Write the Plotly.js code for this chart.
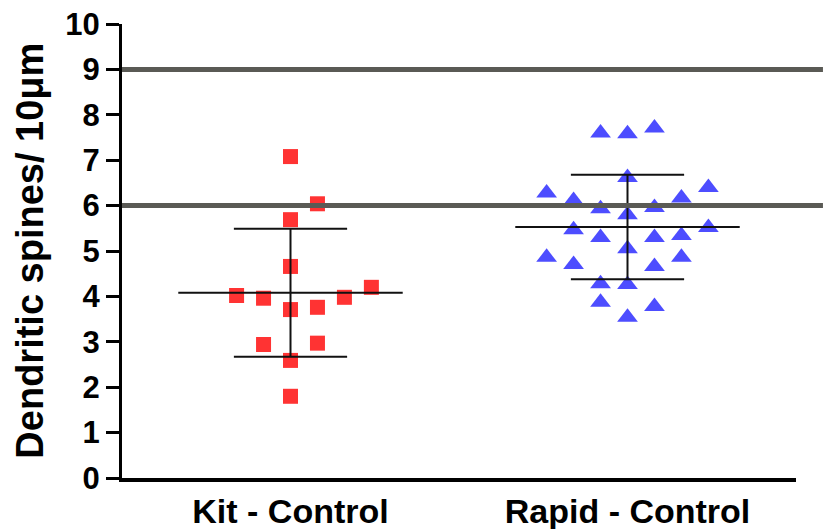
<!DOCTYPE html>
<html>
<head>
<meta charset="utf-8">
<script src="https://cdn.plot.ly/plotly-3.0.1.min.js"></script>
<style>html,body{margin:0;padding:0;background:#fff;}#chart{width:828px;height:529px;}</style>
</head>
<body>
<div id="chart"></div>
<script>
// ---- data ----
const categories = ['Kit - Control', 'Rapid - Control'];
const yTickVals = [0, 1, 2, 3, 4, 5, 6, 7, 8, 9, 10];
const yTitle = 'Dendritic spines/ 10μm';

const kitValues = [7.08, 6.04, 5.69, 4.66, 4.02, 3.96, 3.98, 4.20, 3.71, 3.76, 2.94, 2.97, 2.59, 1.80];
const kitColumn = [0, 1, 0, 0, -2, -1, 2, 3, 0, 1, -1, 1, 0, 0];

const rapidValues = [7.60, 7.58, 7.71, 6.62, 6.28, 6.40, 6.11, 6.17, 5.93, 5.96, 5.80, 5.52, 5.47, 5.30, 5.30, 5.34, 5.05, 4.86, 4.70, 4.86, 4.66, 4.28, 4.26, 3.87, 3.78, 3.54];
const rapidColumn = [-1, 0, 1, 0, -3, 3, -2, 2, -1, 1, 0, 3, -2, -1, 1, 2, 0, -3, -2, 2, 1, -1, 0, -1, 1, 0];

const groupMean = [4.08, 5.53];
const groupSD = [1.41, 1.15];

const refLines = [9, 6];

// ---- styles ----
const colStep = 0.08;
const meanHalf = 0.333;
const capHalf = 0.168;
const fontFam = 'Arial, "Liberation Sans", Helvetica, sans-serif';

const traces = [];
traces.push({
  x: kitColumn.map(c => 0 + c * colStep), y: kitValues,
  type: 'scatter', mode: 'markers', name: categories[0],
  marker: {symbol: 'square', size: 15, color: '#FF3333'},
  hoverinfo: 'y'
});
traces.push({
  x: rapidColumn.map(c => 1 + c * colStep), y: rapidValues,
  type: 'scatter', mode: 'markers', name: categories[1],
  marker: {symbol: 'triangle-up', size: 18, color: '#4D4DFF'},
  hoverinfo: 'y'
});

// mean and SD bars
groupMean.forEach((m, i) => {
  const s = groupSD[i];
  const xs = [i - meanHalf, i + meanHalf, null, i, i, null, i - capHalf, i + capHalf, null, i - capHalf, i + capHalf];
  const ys = [m, m, null, m - s, m + s, null, m + s, m + s, null, m - s, m - s];
  traces.push({x: xs, y: ys, type: 'scatter', mode: 'lines', line: {color: '#111', width: 2}, hoverinfo: 'skip'});
});

const shapes = refLines.map(v => ({
  type: 'line', xref: 'paper', yref: 'y', x0: 0, x1: 1.04, y0: v, y1: v,
  line: {color: '#5A5A55', width: 5}, layer: 'above'
}));

const layout = {
  width: 828, height: 529,
  margin: {l: 122, r: 32, t: 24, b: 51},
  paper_bgcolor: '#fff', plot_bgcolor: '#fff',
  showlegend: false,
  font: {family: fontFam, color: '#000'},
  xaxis: {
    range: [-0.5, 1.5], tickvals: [0, 1], ticktext: categories,
    showgrid: false, zeroline: false, showline: true, linecolor: '#000', linewidth: 4,
    ticks: '', tickfont: {size: 34, weight: 'bold', family: fontFam, color: '#000'},
    fixedrange: true
  },
  yaxis: {
    range: [0, 10], tickvals: yTickVals,
    showgrid: false, zeroline: false, showline: true, linecolor: '#000', linewidth: 3,
    ticks: 'outside', ticklen: 13, tickwidth: 3, tickcolor: '#000',
    tickfont: {size: 31, weight: 'bold', family: fontFam, color: '#000'},
    fixedrange: true
  },
  shapes: shapes,
  annotations: [{
    text: yTitle, xref: 'paper', yref: 'paper', x: -0.137, y: 0.5,
    xanchor: 'center', yanchor: 'middle', textangle: -90, showarrow: false,
    font: {size: 38, weight: 'bold', family: fontFam, color: '#000'}
  }]
};

Plotly.newPlot('chart', traces, layout, {displayModeBar: false, staticPlot: true});
</script>
</body>
</html>
